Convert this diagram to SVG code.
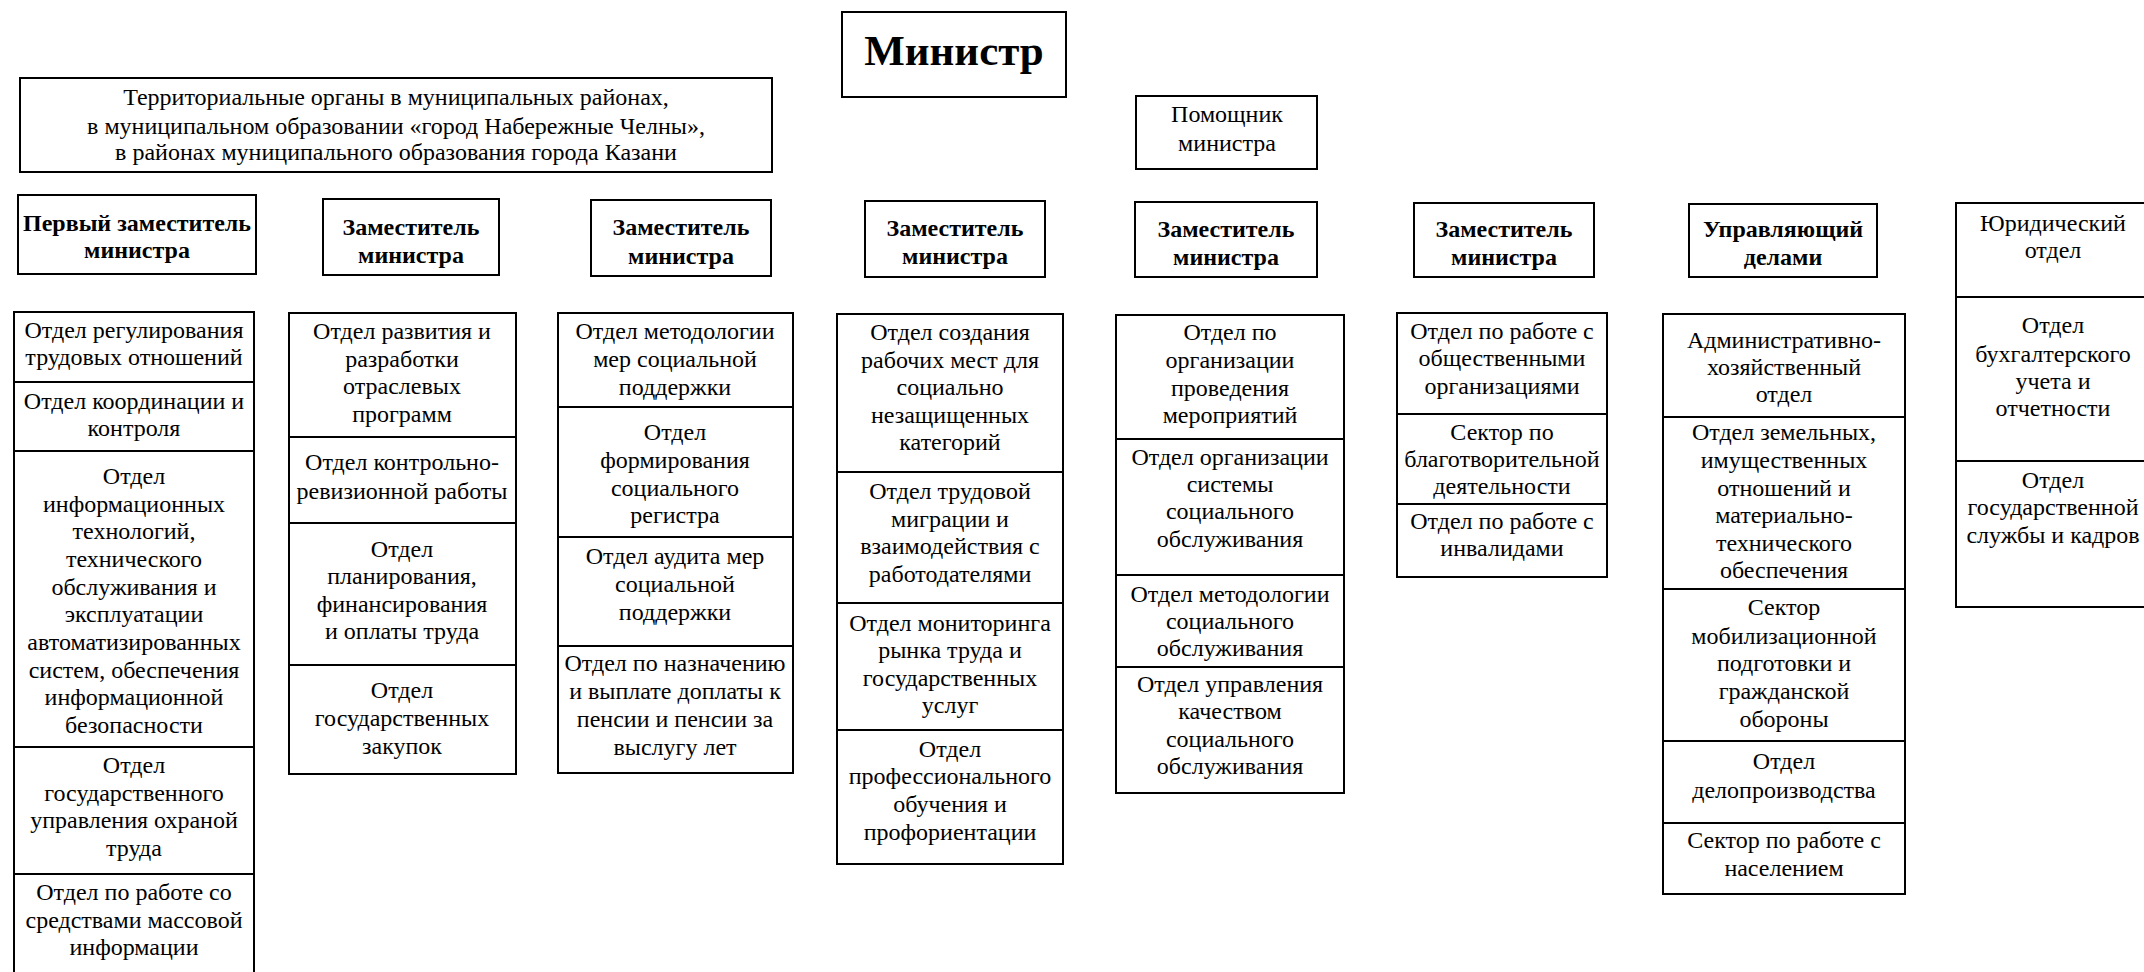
<svg xmlns="http://www.w3.org/2000/svg" width="2144" height="972" viewBox="0 0 2144 972">
<style>
.box{fill:#fff;stroke:#000;stroke-width:2}
.t{font-family:"Liberation Serif","Times New Roman",serif;font-size:24px;text-anchor:middle;fill:#000}
.b{font-weight:bold}
.big{font-size:43px;font-weight:bold}
</style>
<rect x="0" y="0" width="2144" height="972" fill="#fff"/>
<g id="connectors"/>
<g id="minister"><rect class="box" x="842" y="12" width="224" height="85"/><text class="t big" x="954" y="65">Министр</text></g>
<g id="territorial"><rect class="box" x="20" y="78" width="752" height="94"/>
<text class="t" x="396" y="105">Территориальные органы в муниципальных районах,</text>
<text class="t" x="396" y="134">в муниципальном  образовании «город Набережные Челны»,</text>
<text class="t" x="396" y="160">в районах муниципального образования города Казани</text></g>
<g id="assistant"><rect class="box" x="1136" y="96" width="181" height="73"/><text class="t" x="1227" y="122">Помощник</text><text class="t" x="1227" y="151">министра</text></g>

<g id="dep1"><rect class="box" x="18" y="195" width="238" height="79"/><text class="t b" x="137" y="231">Первый заместитель</text><text class="t b" x="137" y="258">министра</text></g>
<g id="dep2"><rect class="box" x="323" y="199" width="176" height="76"/><text class="t b" x="411" y="235">Заместитель</text><text class="t b" x="411" y="263">министра</text></g>
<g id="dep3"><rect class="box" x="591" y="200" width="180" height="76"/><text class="t b" x="681" y="235">Заместитель</text><text class="t b" x="681" y="264">министра</text></g>
<g id="dep4"><rect class="box" x="865" y="201" width="180" height="76"/><text class="t b" x="955" y="236">Заместитель</text><text class="t b" x="955" y="264">министра</text></g>
<g id="dep5"><rect class="box" x="1135" y="202" width="182" height="75"/><text class="t b" x="1226" y="237">Заместитель</text><text class="t b" x="1226" y="265">министра</text></g>
<g id="dep6"><rect class="box" x="1414" y="203" width="180" height="74"/><text class="t b" x="1504" y="237">Заместитель</text><text class="t b" x="1504" y="265">министра</text></g>
<g id="manager"><rect class="box" x="1689" y="204" width="188" height="73"/><text class="t b" x="1783" y="237">Управляющий</text><text class="t b" x="1783" y="265">делами</text></g>

<g id="c1a"><rect class="box" x="14" y="312" width="240" height="70"/><text class="t" x="134" y="338">Отдел регулирования</text><text class="t" x="134" y="365">трудовых отношений</text></g>
<g id="c1b"><rect class="box" x="14" y="382" width="240" height="69"/><text class="t" x="134" y="409">Отдел координации и</text><text class="t" x="134" y="436">контроля</text></g>
<g id="c1c"><rect class="box" x="14" y="451" width="240" height="296"/>
<text class="t" x="134" y="484">Отдел</text><text class="t" x="134" y="512">информационных</text><text class="t" x="134" y="539">технологий,</text><text class="t" x="134" y="567">технического</text><text class="t" x="134" y="595">обслуживания и</text><text class="t" x="134" y="622">эксплуатации</text><text class="t" x="134" y="650">автоматизированных</text><text class="t" x="134" y="678">систем, обеспечения</text><text class="t" x="134" y="705">информационной</text><text class="t" x="134" y="733">безопасности</text></g>
<g id="c1d"><rect class="box" x="14" y="747" width="240" height="127"/><text class="t" x="134" y="773">Отдел</text><text class="t" x="134" y="801">государственного</text><text class="t" x="134" y="828">управления охраной</text><text class="t" x="134" y="856">труда</text></g>
<g id="c1e"><rect class="box" x="14" y="874" width="240" height="110"/><text class="t" x="134" y="900">Отдел по работе со</text><text class="t" x="134" y="928">средствами массовой</text><text class="t" x="134" y="955">информации</text></g>

<g id="c2a"><rect class="box" x="289" y="313" width="227" height="124"/><text class="t" x="402" y="339">Отдел развития и</text><text class="t" x="402" y="367">разработки</text><text class="t" x="402" y="394">отраслевых</text><text class="t" x="402" y="422">программ</text></g>
<g id="c2b"><rect class="box" x="289" y="437" width="227" height="86"/><text class="t" x="402" y="470">Отдел контрольно-</text><text class="t" x="402" y="499">ревизионной работы</text></g>
<g id="c2c"><rect class="box" x="289" y="523" width="227" height="142"/><text class="t" x="402" y="557">Отдел</text><text class="t" x="402" y="584">планирования,</text><text class="t" x="402" y="612">финансирования</text><text class="t" x="402" y="639">и оплаты труда</text></g>
<g id="c2d"><rect class="box" x="289" y="665" width="227" height="109"/><text class="t" x="402" y="698">Отдел</text><text class="t" x="402" y="726">государственных</text><text class="t" x="402" y="754">закупок</text></g>

<g id="c3a"><rect class="box" x="558" y="313" width="235" height="94"/><text class="t" x="675" y="339">Отдел методологии</text><text class="t" x="675" y="367">мер социальной</text><text class="t" x="675" y="395">поддержки</text></g>
<g id="c3b"><rect class="box" x="558" y="407" width="235" height="130"/><text class="t" x="675" y="440">Отдел</text><text class="t" x="675" y="468">формирования</text><text class="t" x="675" y="496">социального</text><text class="t" x="675" y="523">регистра</text></g>
<g id="c3c"><rect class="box" x="558" y="537" width="235" height="109"/><text class="t" x="675" y="564">Отдел аудита мер</text><text class="t" x="675" y="592">социальной</text><text class="t" x="675" y="620">поддержки</text></g>
<g id="c3d"><rect class="box" x="558" y="646" width="235" height="127"/><text class="t" x="675" y="671">Отдел по назначению</text><text class="t" x="675" y="699">и выплате доплаты к</text><text class="t" x="675" y="727">пенсии и пенсии за</text><text class="t" x="675" y="755">выслугу лет</text></g>

<g id="c4a"><rect class="box" x="837" y="314" width="226" height="158"/><text class="t" x="950" y="340">Отдел создания</text><text class="t" x="950" y="368">рабочих мест для</text><text class="t" x="950" y="395">социально</text><text class="t" x="950" y="423">незащищенных</text><text class="t" x="950" y="450">категорий</text></g>
<g id="c4b"><rect class="box" x="837" y="472" width="226" height="131"/><text class="t" x="950" y="499">Отдел трудовой</text><text class="t" x="950" y="527">миграции и</text><text class="t" x="950" y="554">взаимодействия с</text><text class="t" x="950" y="582">работодателями</text></g>
<g id="c4c"><rect class="box" x="837" y="603" width="226" height="127"/><text class="t" x="950" y="631">Отдел мониторинга</text><text class="t" x="950" y="658">рынка труда и</text><text class="t" x="950" y="686">государственных</text><text class="t" x="950" y="713">услуг</text></g>
<g id="c4d"><rect class="box" x="837" y="730" width="226" height="134"/><text class="t" x="950" y="757">Отдел</text><text class="t" x="950" y="784">профессионального</text><text class="t" x="950" y="812">обучения и</text><text class="t" x="950" y="840">профориентации</text></g>

<g id="c5a"><rect class="box" x="1116" y="315" width="228" height="124"/><text class="t" x="1230" y="340">Отдел по</text><text class="t" x="1230" y="368">организации</text><text class="t" x="1230" y="396">проведения</text><text class="t" x="1230" y="423">мероприятий</text></g>
<g id="c5b"><rect class="box" x="1116" y="439" width="228" height="136"/><text class="t" x="1230" y="465">Отдел организации</text><text class="t" x="1230" y="492">системы</text><text class="t" x="1230" y="519">социального</text><text class="t" x="1230" y="547">обслуживания</text></g>
<g id="c5c"><rect class="box" x="1116" y="575" width="228" height="92"/><text class="t" x="1230" y="602">Отдел методологии</text><text class="t" x="1230" y="629">социального</text><text class="t" x="1230" y="656">обслуживания</text></g>
<g id="c5d"><rect class="box" x="1116" y="667" width="228" height="126"/><text class="t" x="1230" y="692">Отдел управления</text><text class="t" x="1230" y="719">качеством</text><text class="t" x="1230" y="747">социального</text><text class="t" x="1230" y="774">обслуживания</text></g>

<g id="c6a"><rect class="box" x="1397" y="313" width="210" height="101"/><text class="t" x="1502" y="339">Отдел по работе с</text><text class="t" x="1502" y="366">общественными</text><text class="t" x="1502" y="394">организациями</text></g>
<g id="c6b"><rect class="box" x="1397" y="414" width="210" height="90"/><text class="t" x="1502" y="440">Сектор по</text><text class="t" x="1502" y="467">благотворительной</text><text class="t" x="1502" y="494">деятельности</text></g>
<g id="c6c"><rect class="box" x="1397" y="504" width="210" height="73"/><text class="t" x="1502" y="529">Отдел по работе с</text><text class="t" x="1502" y="556">инвалидами</text></g>

<g id="c7a"><rect class="box" x="1663" y="314" width="242" height="103"/><text class="t" x="1784" y="348">Административно-</text><text class="t" x="1784" y="375">хозяйственный</text><text class="t" x="1784" y="402">отдел</text></g>
<g id="c7b"><rect class="box" x="1663" y="417" width="242" height="172"/><text class="t" x="1784" y="440">Отдел земельных,</text><text class="t" x="1784" y="468">имущественных</text><text class="t" x="1784" y="496">отношений  и</text><text class="t" x="1784" y="523">материально-</text><text class="t" x="1784" y="551">технического</text><text class="t" x="1784" y="578">обеспечения</text></g>
<g id="c7c"><rect class="box" x="1663" y="589" width="242" height="152"/><text class="t" x="1784" y="615">Сектор</text><text class="t" x="1784" y="644">мобилизационной</text><text class="t" x="1784" y="671">подготовки и</text><text class="t" x="1784" y="699">гражданской</text><text class="t" x="1784" y="727">обороны</text></g>
<g id="c7d"><rect class="box" x="1663" y="741" width="242" height="82"/><text class="t" x="1784" y="769">Отдел</text><text class="t" x="1784" y="798">делопроизводства</text></g>
<g id="c7e"><rect class="box" x="1663" y="823" width="242" height="71"/><text class="t" x="1784" y="848">Сектор по работе с</text><text class="t" x="1784" y="876">населением</text></g>

<g id="c8a"><rect class="box" x="1956" y="203" width="196" height="94"/><text class="t" x="2053" y="231">Юридический</text><text class="t" x="2053" y="258">отдел</text></g>
<g id="c8b"><rect class="box" x="1956" y="297" width="196" height="164"/><text class="t" x="2053" y="333">Отдел</text><text class="t" x="2053" y="362">бухгалтерского</text><text class="t" x="2053" y="389">учета и</text><text class="t" x="2053" y="416">отчетности</text></g>
<g id="c8c"><rect class="box" x="1956" y="461" width="196" height="146"/><text class="t" x="2053" y="488">Отдел</text><text class="t" x="2053" y="515">государственной</text><text class="t" x="2053" y="543">службы и кадров</text></g>
</svg>
